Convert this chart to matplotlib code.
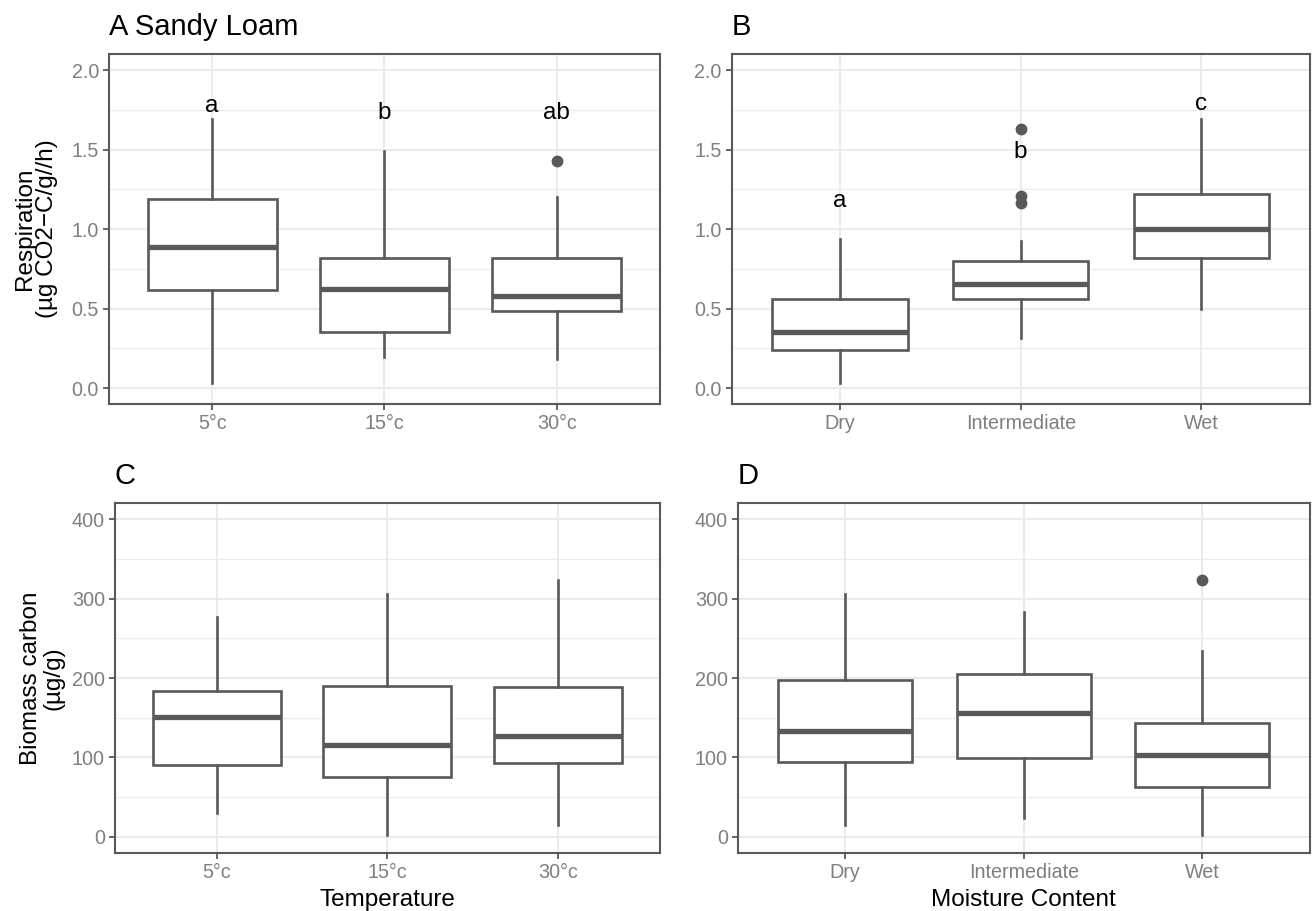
import matplotlib
matplotlib.use("Agg")
import matplotlib.pyplot as plt

plt.rcParams['font.family'] = ['Liberation Sans', 'DejaVu Sans']

# ---------------- data ----------------
temp_cats = ["5°c", "15°c", "30°c"]
moist_cats = ["Dry", "Intermediate", "Wet"]

# Respiration by temperature: (whislo, q1, med, q3, whishi)
resp_temp_stats = [
    (0.031, 0.618, 0.890, 1.192, 1.696),
    (0.193, 0.350, 0.622, 0.819, 1.493),
    (0.186, 0.482, 0.582, 0.819, 1.204),
]
resp_temp_fliers = [[], [], [1.430]]
resp_temp_letters = ["a", "b", "ab"]
resp_temp_letter_y = [1.738, 1.692, 1.692]

# Respiration by moisture
resp_moist_stats = [
    (0.031, 0.237, 0.350, 0.561, 0.936),
    (0.318, 0.561, 0.653, 0.800, 0.926),
    (0.496, 0.821, 1.001, 1.221, 1.696),
]
resp_moist_fliers = [[], [1.627, 1.210, 1.162], []]
resp_moist_letters = ["a", "b", "c"]
resp_moist_letter_y = [1.141, 1.445, 1.749]

# Biomass carbon by temperature
bio_temp_stats = [
    (30.5, 90.4, 151.0, 184.0, 276.6),
    (2.0, 75.3, 115.5, 190.4, 305.4),
    (14.6, 93.3, 126.4, 188.7, 323.0),
]
bio_temp_fliers = [[], [], []]

# Biomass carbon by moisture
bio_moist_stats = [
    (14.6, 94.6, 133.0, 197.9, 305.4),
    (24.3, 99.6, 156.0, 205.4, 283.7),
    (2.0, 62.8, 102.9, 143.9, 233.9),
]
bio_moist_fliers = [[], [], [323.0]]

resp_major = [0.0, 0.5, 1.0, 1.5, 2.0]
resp_minor = [0.25, 0.75, 1.25, 1.75]
bio_major = [0, 100, 200, 300, 400]
bio_minor = [50, 150, 250, 350]

# ---------------- style ----------------
W, H = 1312, 911
LINE = '#595959'
TICKLAB = '#7F7F7F'
GRID = '#EBEBEB'
TICK_FS = 14.2
AXT_FS = 17.5
TITLE_FS = 21

fig = plt.figure(figsize=(W / 100, H / 100), dpi=100)


def px_axes(l, r, t, b):
    return fig.add_axes([l / W, 1 - b / H, (r - l) / W, (b - t) / H])


def make_stats(stats, fliers):
    out = []
    for (lo, q1, med, q3, hi), fl in zip(stats, fliers):
        out.append(dict(whislo=lo, q1=q1, med=med, q3=q3, whishi=hi, fliers=fl))
    return out


def draw_panel(ax, stats, fliers, cats, major, minor, ylim, fmt):
    ax.set_axisbelow(True)
    ax.bxp(make_stats(stats, fliers), positions=[1, 2, 3], widths=0.75,
           showcaps=False, patch_artist=True,
           boxprops=dict(facecolor='white', edgecolor=LINE, linewidth=1.9),
           whiskerprops=dict(color=LINE, linewidth=1.9),
           medianprops=dict(color=LINE, linewidth=3.8, solid_capstyle='butt'),
           flierprops=dict(marker='o', markerfacecolor=LINE, markeredgecolor=LINE,
                           markersize=7.5, linestyle='none'))
    ax.set_xlim(0.4, 3.6)
    ax.set_ylim(*ylim)
    ax.set_xticks([1, 2, 3])
    ax.set_xticklabels(cats)
    ax.set_yticks(major)
    ax.set_yticklabels([fmt(v) for v in major])
    ax.set_yticks(minor, minor=True)
    ax.grid(which='major', color=GRID, linewidth=1.4)
    ax.grid(which='minor', axis='y', color=GRID, linewidth=0.8)
    ax.tick_params(which='major', length=4.1, width=1.3, color=LINE,
                   labelcolor=TICKLAB, labelsize=TICK_FS, pad=3)
    ax.tick_params(which='minor', length=0)
    for s in ax.spines.values():
        s.set_color(LINE)
        s.set_linewidth(1.5)


f1 = lambda v: f"{v:.1f}"
f0 = lambda v: f"{int(v)}"

axA = px_axes(108.8, 660, 54.3, 404)
axB = px_axes(731.7, 1309.7, 54.3, 404)
axC = px_axes(114.7, 660, 503.3, 852.7)
axD = px_axes(737.7, 1309.7, 503.3, 852.7)

draw_panel(axA, resp_temp_stats, resp_temp_fliers, temp_cats, resp_major, resp_minor, (-0.1, 2.1), f1)
draw_panel(axB, resp_moist_stats, resp_moist_fliers, moist_cats, resp_major, resp_minor, (-0.1, 2.1), f1)
draw_panel(axC, bio_temp_stats, bio_temp_fliers, temp_cats, bio_major, bio_minor, (-20, 420), f0)
draw_panel(axD, bio_moist_stats, bio_moist_fliers, moist_cats, bio_major, bio_minor, (-20, 420), f0)

for i, (lab, y) in enumerate(zip(resp_temp_letters, resp_temp_letter_y)):
    axA.text(i + 1, y, lab, ha='center', va='baseline', fontsize=AXT_FS, color='black')
for i, (lab, y) in enumerate(zip(resp_moist_letters, resp_moist_letter_y)):
    axB.text(i + 1, y, lab, ha='center', va='baseline', fontsize=AXT_FS, color='black')

# panel titles
fig.text(108.8 / W, 1 - 35 / H, "A Sandy Loam", fontsize=TITLE_FS, ha='left', va='baseline')
fig.text(731.7 / W, 1 - 35 / H, "B", fontsize=TITLE_FS, ha='left', va='baseline')
fig.text(114.7 / W, 1 - 484 / H, "C", fontsize=TITLE_FS, ha='left', va='baseline')
fig.text(737.7 / W, 1 - 484 / H, "D", fontsize=TITLE_FS, ha='left', va='baseline')

# axis titles
fig.text(36 / W, 1 - 229 / H, "Respiration\n(µg CO2−C/g//h)", fontsize=AXT_FS,
         rotation=90, ha='center', va='center', linespacing=1.0, multialignment='center')
fig.text(42 / W, 1 - 678 / H, "Biomass carbon\n(µg/g)", fontsize=AXT_FS,
         rotation=90, ha='center', va='center', linespacing=1.0, multialignment='center')
fig.text((114.7 + 660) / 2 / W, 1 - 906 / H, "Temperature", fontsize=AXT_FS, ha='center', va='baseline')
fig.text((737.7 + 1309.7) / 2 / W, 1 - 906 / H, "Moisture Content", fontsize=AXT_FS, ha='center', va='baseline')

fig.savefig("out.png", dpi=100, facecolor='white')
